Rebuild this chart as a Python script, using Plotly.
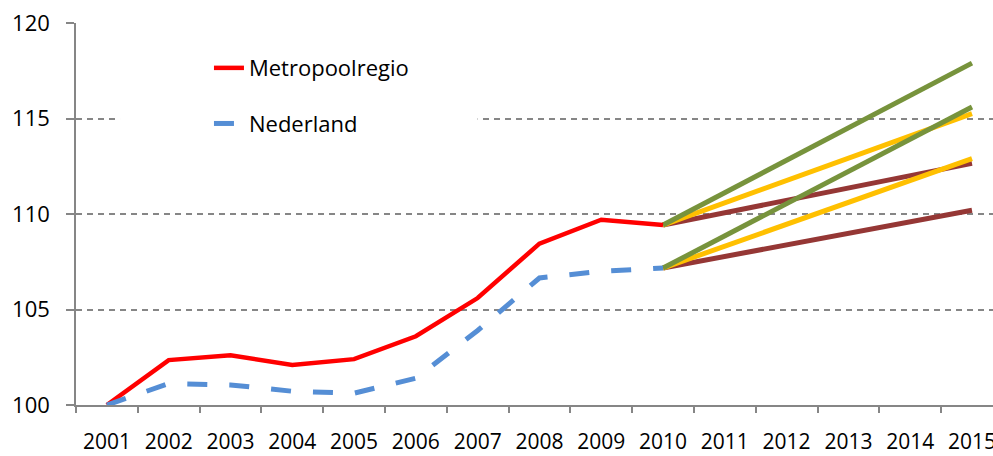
import plotly.graph_objects as go

years = list(range(2001, 2016))
hist_years = years[:10]

metropoolregio = [100.0, 102.35, 102.6, 102.1, 102.4, 103.6, 105.6, 108.45, 109.7, 109.42]
nederland = [100.0, 101.12, 101.05, 100.72, 100.62, 101.4, 103.9, 106.65, 107.0, 107.17]

proj_years = [2010, 2015]
# scenario lines starting from the 2010 values
proj_metro = {
    "hoog": [109.42, 117.9],
    "midden": [109.42, 115.25],
    "laag": [109.42, 112.65],
}
proj_ned = {
    "hoog": [107.17, 115.6],
    "midden": [107.17, 112.9],
    "laag": [107.17, 110.2],
}
proj_colors = {"hoog": "#77933C", "midden": "#FFC000", "laag": "#953735"}

font_family = "Open Sans"
axis_grey = "#868686"

fig = go.Figure()

# projections first so the history lines sit on top
for name in ["laag", "midden", "hoog"]:
    for proj in (proj_metro, proj_ned):
        fig.add_trace(
            go.Scatter(
                x=proj_years,
                y=proj[name],
                mode="lines",
                line=dict(color=proj_colors[name], width=5),
                showlegend=False,
                hoverinfo="skip",
            )
        )

fig.add_trace(
    go.Scatter(
        x=hist_years,
        y=metropoolregio,
        mode="lines",
        name="Metropoolregio",
        legendgroup="a",
        line=dict(color="#FF0000", width=4.5),
    )
)
fig.add_trace(
    go.Scatter(
        x=hist_years,
        y=nederland,
        mode="lines",
        name="Nederland",
        legendgroup="b",
        line=dict(color="#558ED5", width=5, dash="20px,22px"),
    )
)

# white legend box area (hides the gridline behind the legend like excel)
fig.add_shape(
    type="rect",
    xref="paper",
    yref="paper",
    x0=0.048,
    x1=0.438,
    y0=0.7,
    y1=0.96,
    fillcolor="white",
    line_width=0,
    layer="above",
)

fig.update_layout(
    width=993,
    height=456,
    paper_bgcolor="white",
    plot_bgcolor="white",
    margin=dict(l=76, r=0, t=23, b=51, autoexpand=False),
    font=dict(family=font_family, size=22, color="black"),
    legend=dict(
        x=0.145,
        y=0.937,
        xanchor="left",
        yanchor="top",
        bgcolor="rgba(0,0,0,0)",
        tracegroupgap=24,
        font=dict(size=22),
    ),
)
fig.update_xaxes(
    range=[2000.5, 2015.34],
    tickmode="array",
    tickvals=years,
    ticktext=[str(y) for y in years],
    tickfont_size=21,
    showgrid=False,
    showline=True,
    linecolor=axis_grey,
    linewidth=1.5,
    ticks="",
    ticklabelstandoff=17,
    ticklabeloverflow="allow",
    automargin=False,
    zeroline=False,
)
fig.update_yaxes(
    range=[100, 120],
    tickvals=[100, 105, 110, 115, 120],
    showgrid=True,
    gridcolor=axis_grey,
    gridwidth=1.5,
    griddash="6px,5px",
    showline=True,
    linecolor=axis_grey,
    linewidth=1.5,
    ticks="outside",
    ticklen=8,
    tickcolor=axis_grey,
    tickwidth=1.5,
    ticklabelstandoff=12,
    automargin=False,
    zeroline=False,
)

# category separator ticks on the x axis (between years)
fig.update_layout(
    xaxis2=dict(
        overlaying="x",
        matches="x",
        tickvals=[y - 0.5 for y in years],
        ticks="outside",
        ticklen=7,
        tickcolor=axis_grey,
        tickwidth=1.5,
        showticklabels=False,
        showgrid=False,
        side="bottom",
        anchor="y",
        automargin=False,
    )
)
fig.add_trace(go.Scatter(x=[2001], y=[None], xaxis="x2", showlegend=False, hoverinfo="skip"))

# body has an 8px default margin, drop it so the figure fills the window
fig.write_html(
    "out.html",
    config={"displayModeBar": False},
    post_script="document.body.style.margin='0';",
)
